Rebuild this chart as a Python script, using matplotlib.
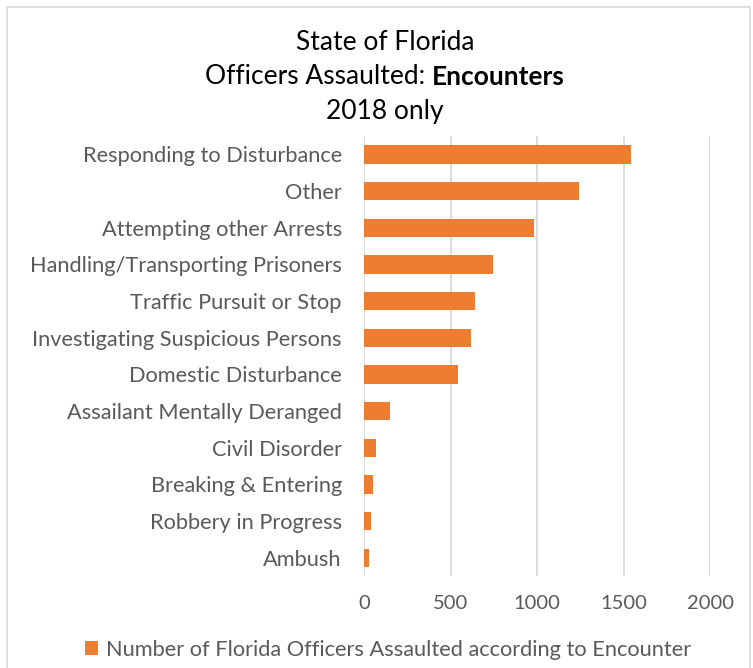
import matplotlib
matplotlib.use("Agg")
import matplotlib.pyplot as plt
from matplotlib.patches import Rectangle

encounters = ["Responding to Disturbance", "Other", "Attempting other Arrests",
              "Handling/Transporting Prisoners", "Traffic Pursuit or Stop",
              "Investigating Suspicious Persons", "Domestic Disturbance",
              "Assailant Mentally Deranged", "Civil Disorder",
              "Breaking & Entering", "Robbery in Progress", "Ambush"]
assaulted = [1542, 1245, 985, 745, 643, 620, 541, 151, 68, 50, 42, 27]
xticks = [0, 500, 1000, 1500, 2000]
legend_label = "Number of Florida Officers Assaulted according to Encounter"

plt.rcParams['font.family'] = ['Lato', 'DejaVu Sans']
W, H = 753, 668
fig = plt.figure(figsize=(W / 100, H / 100), dpi=100)
ax = fig.add_axes([364 / W, 1 - 576 / H, (710 - 364) / W, (576 - 136) / H])

grey = "#595959"
ypos = list(range(len(encounters)))
bars = ax.barh(ypos, assaulted, height=0.5, color="#ED7D31", zorder=3)
ax.set_ylim(len(encounters) - 0.5, -0.5)
ax.set_xlim(0, 2000)
ax.set_xticks(xticks)
ax.set_yticks(ypos)
ax.set_yticklabels(encounters)
ax.tick_params(axis="y", length=0, pad=16, labelsize=15.7, labelcolor=grey)
ax.tick_params(axis="x", length=0, pad=14, labelsize=14.5, labelcolor=grey)
ax.grid(axis="x", color="#d9d9d9", linewidth=1.3, zorder=0)
for s in ax.spines.values():
    s.set_visible(False)

# title, with bold word on the middle line
cx = 385 / W
fs = 19
fig.text(cx, 1 - 42 / H, "State of Florida", ha="center", va="center", fontsize=fs)
fig.text(cx, 1 - 112 / H, "2018 only", ha="center", va="center", fontsize=fs)
t1 = fig.text(0, 1 - 77 / H, "Officers Assaulted: ", ha="left", va="center", fontsize=fs)
t2 = fig.text(0, 1 - 77 / H, "Encounters", ha="left", va="center", fontsize=fs,
              fontweight="bold")
fig.canvas.draw()
r = fig.canvas.get_renderer()
w1 = t1.get_window_extent(r).width
w2 = t2.get_window_extent(r).width
x0 = cx * W - (w1 + w2) / 2
t1.set_x(x0 / W)
t2.set_x((x0 + w1) / W)

# legend
fig.legend([bars], [legend_label], loc="center", bbox_to_anchor=(388 / W, 1 - 650 / H),
           frameon=False, fontsize=15.7, labelcolor=grey, handlelength=0.6,
           handleheight=0.6, handletextpad=0.4)

# chart frame
fig.patches.append(Rectangle((7 / W, -0.05), (750 - 7) / W, 1.05 - 7 / H,
                             transform=fig.transFigure, fill=False,
                             edgecolor="#d9d9d9", linewidth=1.2))

fig.savefig("out.png", dpi=100)
